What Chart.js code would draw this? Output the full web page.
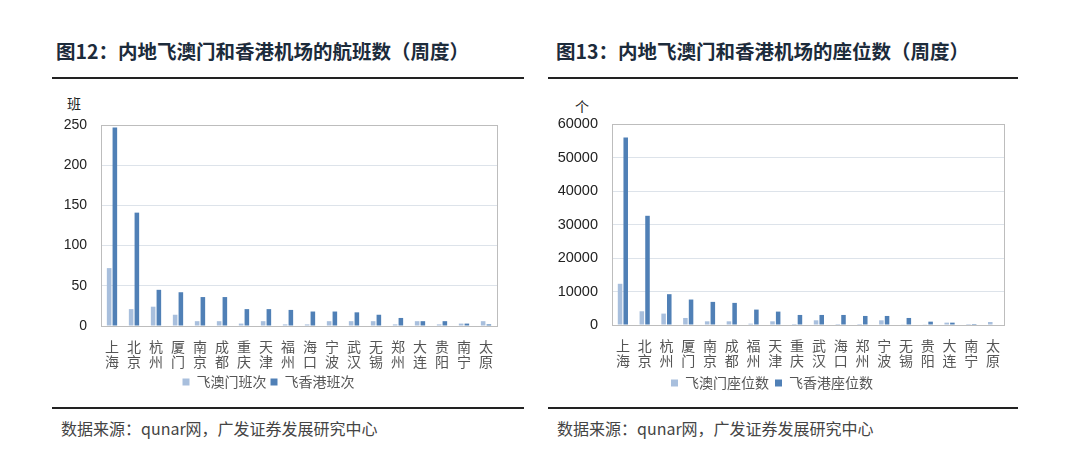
<!DOCTYPE html>
<html>
<head>
<meta charset="utf-8">
<script src="https://cdn.jsdelivr.net/npm/chart.js@4.4.1/dist/chart.umd.min.js"></script>
<style>
  html, body { margin: 0; padding: 0; background: #fff; }
  body { width: 1080px; height: 470px; position: relative; overflow: hidden; font-family: "Noto Sans CJK SC", sans-serif; }
  .title { position: absolute; top: 36px; font-size: 19.5px; font-weight: bold; color: #1c2b3b; white-space: nowrap; }
  .rule { position: absolute; height: 2px; background: #222; }
  .source { position: absolute; top: 416px; font-size: 16px; color: #444; white-space: nowrap; }
  .unit { position: absolute; font-size: 14px; color: #222; }
  canvas { position: absolute; }
</style>
</head>
<body>
<div class="title" style="left:56px">图12：内地飞澳门和香港机场的航班数（周度）</div>
<div class="rule" style="left:52px; width:472px; top:77px"></div>
<div class="unit" style="left:67px; top:93px">班</div>
<canvas id="flightChart" width="480" height="310" style="left:40px; top:95px"></canvas>
<div class="rule" style="left:52px; width:472px; top:407px"></div>
<div class="source" style="left:61px">数据来源：qunar网，广发证券发展研究中心</div>

<div class="title" style="left:556px">图13：内地飞澳门和香港机场的座位数（周度）</div>
<div class="rule" style="left:548px; width:470px; top:77px"></div>
<div class="unit" style="left:575px; top:96px">个</div>
<canvas id="seatChart" width="480" height="310" style="left:540px; top:95px"></canvas>
<div class="rule" style="left:548px; width:470px; top:407px"></div>
<div class="source" style="left:557px">数据来源：qunar网，广发证券发展研究中心</div>

<script>
// 航班数（周度）
const flightCities = ['上海','北京','杭州','厦门','南京','成都','重庆','天津','福州','海口','宁波','武汉','无锡','郑州','大连','贵阳','南宁','太原'];
const macauFlights = [72, 21, 24, 14, 6, 6, 3, 6, 2, 2, 6, 6, 6, 2, 6, 2, 3, 6];
const hkFlights = [247, 141, 45, 42, 36, 36, 21, 21, 20, 18, 18, 17, 14, 10, 6, 6, 3, 2];
const flightTicks = [0, 50, 100, 150, 200, 250];

// 座位数（周度）
const seatCities = ['上海','北京','杭州','厦门','南京','成都','福州','天津','重庆','武汉','海口','郑州','宁波','无锡','贵阳','大连','南宁','太原'];
const macauSeats = [12300, 4100, 3400, 2100, 1100, 1100, 400, 1100, 300, 1400, 300, 300, 1400, 100, 200, 700, 300, 900];
const hkSeats = [56000, 32600, 9200, 7600, 6900, 6600, 4600, 4000, 3000, 3000, 3000, 2700, 2700, 2100, 1000, 700, 300, 0];
const seatTicks = [0, 10000, 20000, 30000, 40000, 50000, 60000];

const lightBlue = '#a8bfdd';
const darkBlue = '#5080b6';

// 画图区外框
const frameBox = {
    id: 'frameBox',
    afterDatasetsDraw(chart) {
        const a = chart.chartArea;
        const c = chart.ctx;
        c.save();
        c.strokeStyle = '#bdbdbd';
        c.lineWidth = 1;
        c.strokeRect(Math.round(a.left) + 0.5, Math.round(a.top) + 0.5, Math.round(a.right - a.left), Math.round(a.bottom - a.top));
        c.restore();
    }
};

function makeChart(id, cities, macau, hk, ticks, names, opt) {
    return new Chart(document.getElementById(id), {
        type: 'bar',
        data: {
            labels: cities.map(c => c.split('')),
            datasets: [
                { label: names[0], data: macau, backgroundColor: lightBlue, barPercentage: 0.8, categoryPercentage: 0.52 },
                { label: names[1], data: hk, backgroundColor: darkBlue, barPercentage: 0.8, categoryPercentage: 0.52 }
            ]
        },
        options: {
            responsive: false,
            devicePixelRatio: 1,
            animation: false,
            layout: { padding: { top: opt.top, right: opt.right, bottom: opt.bottom, left: 0 } },
            plugins: {
                legend: {
                    position: 'bottom',
                    labels: {
                        boxWidth: 7, boxHeight: 7, padding: opt.legendPad,
                        color: '#555',
                        font: { family: '"Noto Sans CJK SC"', size: 14 }
                    }
                },
                tooltip: { enabled: false }
            },
            scales: {
                x: {
                    grid: { display: false },
                    border: { display: false },
                    ticks: {
                        color: '#555', padding: 5, maxRotation: 0, autoSkip: false,
                        font: { family: '"Noto Sans CJK SC"', size: 14, lineHeight: 1.08 }
                    },
                    afterFit(scale) { scale.height = 45; }
                },
                y: {
                    min: 0, max: ticks[ticks.length - 1],
                    afterBuildTicks(scale) { scale.ticks = ticks.map(v => ({ value: v })); },
                    grid: { color: '#dde3ea', drawTicks: false },
                    border: { display: false },
                    ticks: {
                        color: '#222', padding: 14,
                        font: { family: '"Liberation Sans", Arial, sans-serif', size: opt.yFont },
                        callback: v => String(v)
                    },
                    afterFit(scale) { scale.width = opt.yWidth; }
                }
            }
        },
        plugins: [frameBox]
    });
}

makeChart('flightChart', flightCities, macauFlights, hkFlights, flightTicks,
    ['飞澳门班次', '飞香港班次'],
    { top: 30, right: 23, bottom: 6, legendPad: 4, yWidth: 61, yFont: 14 });

makeChart('seatChart', seatCities, macauSeats, hkSeats, seatTicks,
    ['飞澳门座位数', '飞香港座位数'],
    { top: 29, right: 16, bottom: 5, legendPad: 6, yWidth: 72, yFont: 14.5 });
</script>
</body>
</html>
